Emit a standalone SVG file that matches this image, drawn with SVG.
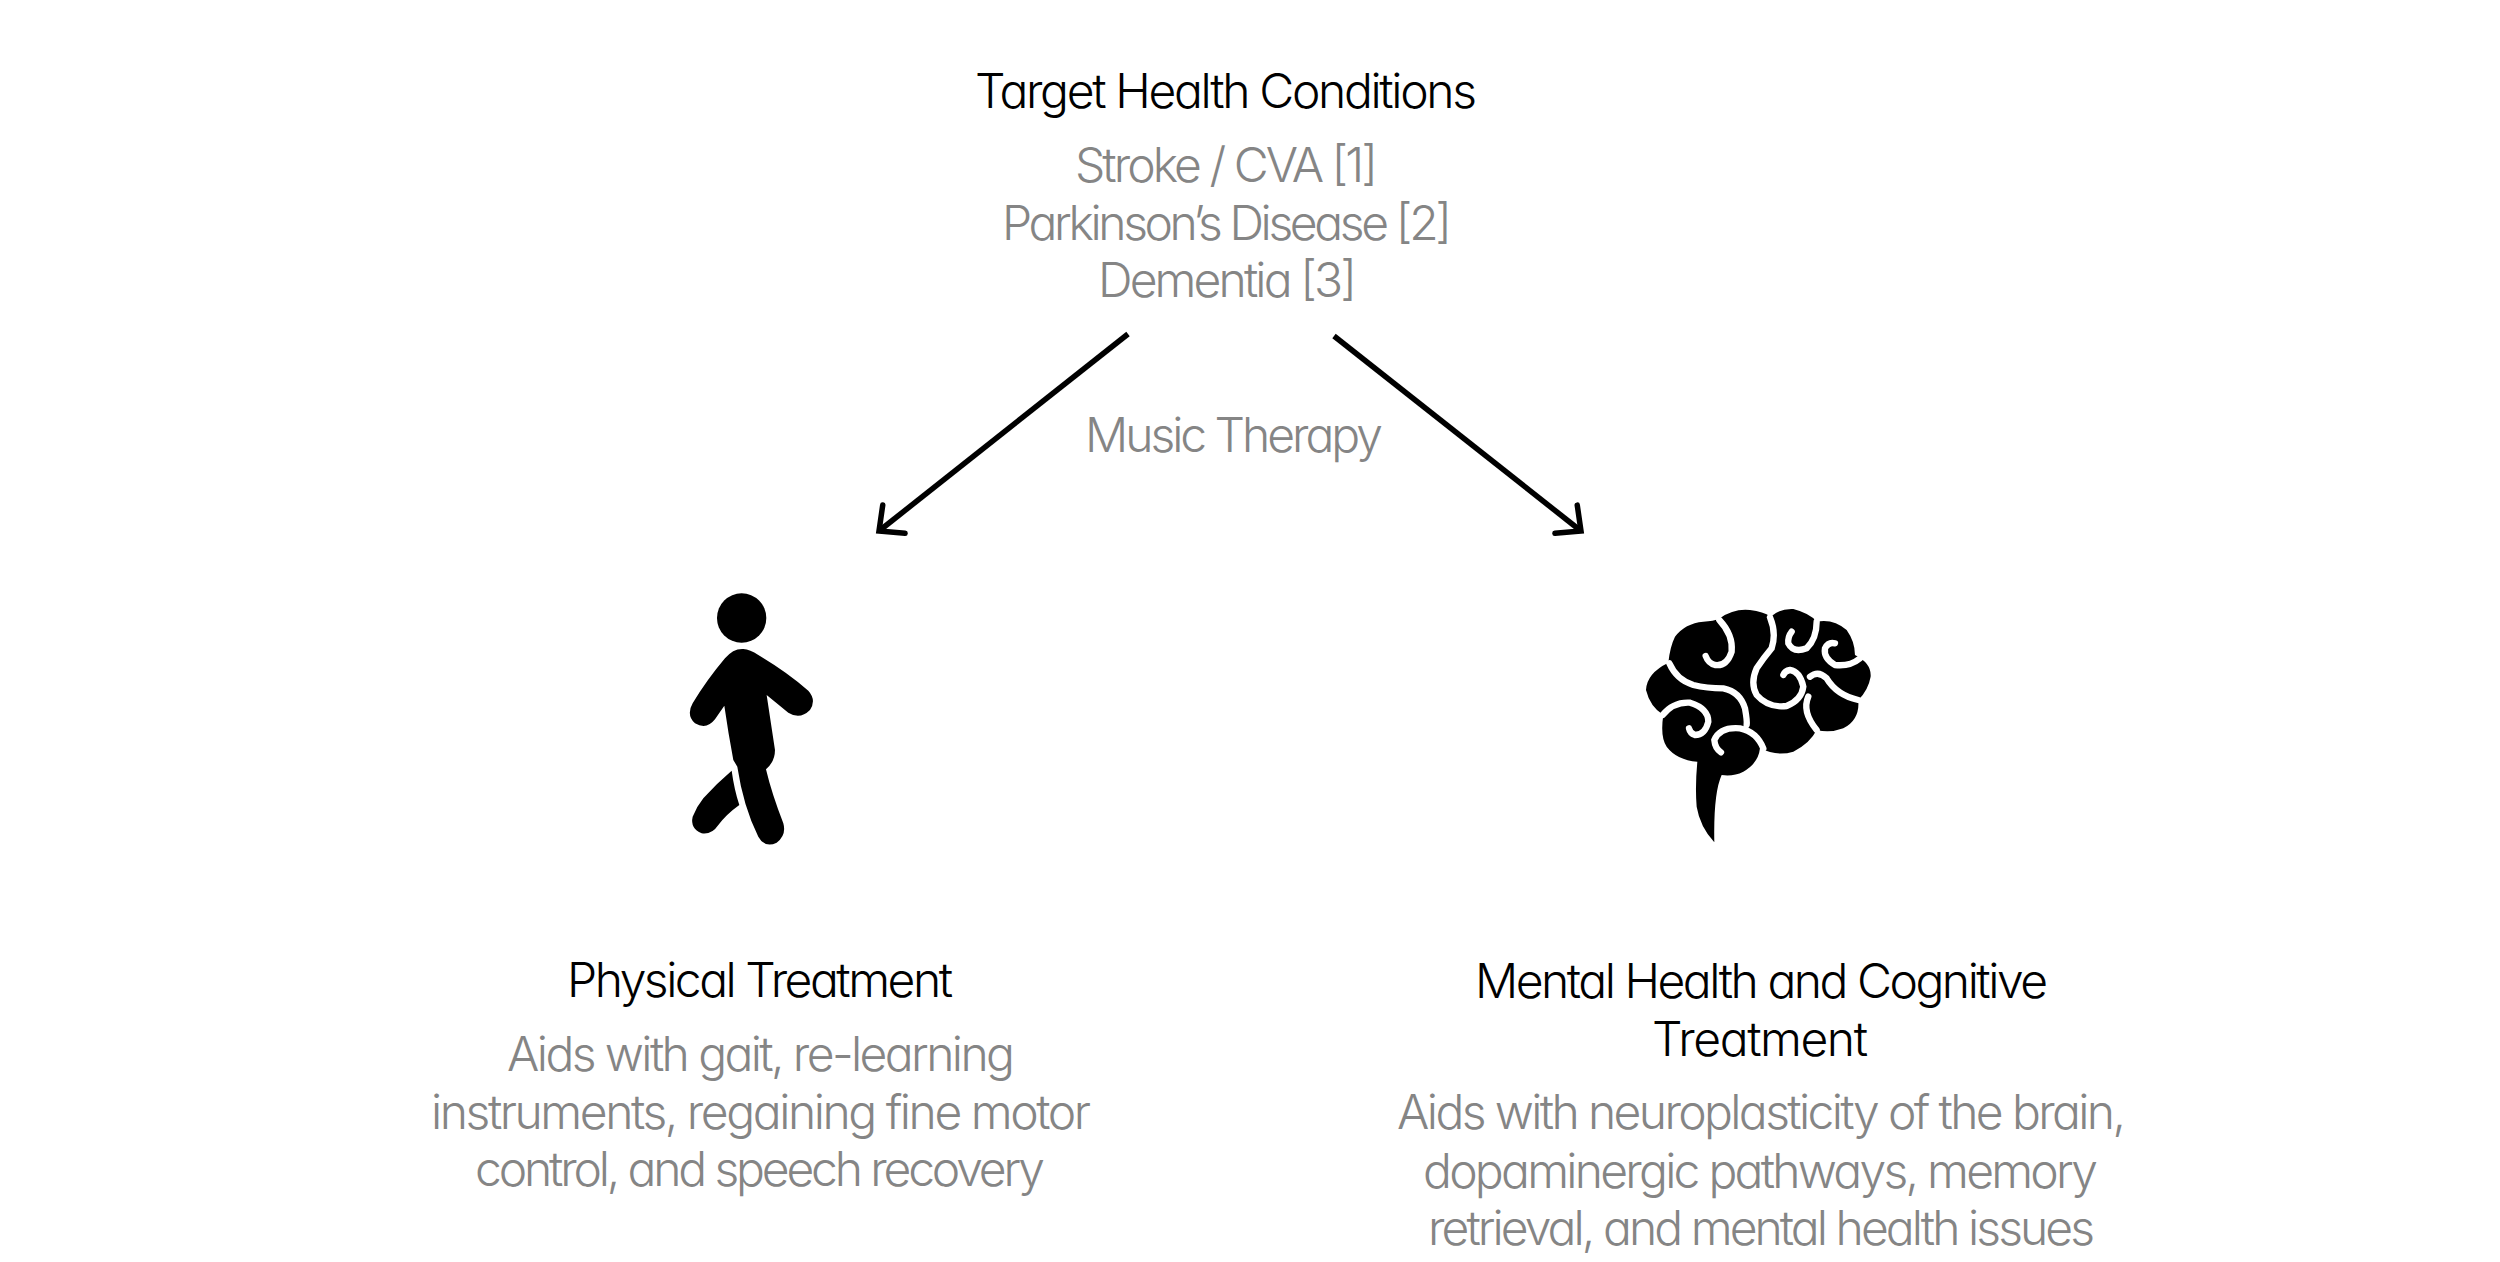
<svg xmlns="http://www.w3.org/2000/svg" width="2500" height="1262" viewBox="0 0 2500 1262">
<style>
text{font-family:"Inter","Lato","Liberation Sans",sans-serif;font-size:48px;font-weight:300;font-feature-settings:"cv11" 1;}
.h{fill:#000;}
.b{fill:#858585;}
.arrow{fill:none;stroke:#000;stroke-width:5.5;marker-end:url(#head);}
.curl{fill:none;stroke:#fff;stroke-width:19;stroke-linecap:round;}
</style>
<defs>
<marker id="head" markerUnits="userSpaceOnUse" markerWidth="50" markerHeight="50" viewBox="-30 -25 50 50" refX="0" refY="0" orient="auto">
<path d="M-19,-18 L0,0 L-19,18" fill="none" stroke="#000" stroke-width="5.5" stroke-linecap="round"/>
</marker>
</defs>
<rect width="2500" height="1262" fill="#fff"/>
<g id="connectors">
<line class="arrow" x1="1128" y1="334" x2="879" y2="531"/>
<line class="arrow" x1="1334" y1="336" x2="1581" y2="531"/>
</g>
<g id="conditions">
<text class="h" x="975" y="108" textLength="502" lengthAdjust="spacing">Target Health Conditions</text>
<text class="b" x="1075" y="182" textLength="303" lengthAdjust="spacing">Stroke / CVA [1]</text>
<text class="b" x="1002" y="240" textLength="450" lengthAdjust="spacing">Parkinson’s Disease [2]</text>
<text class="b" x="1098" y="297" textLength="259" lengthAdjust="spacing">Dementia [3]</text>
</g>
<g id="therapy">
<text class="b" x="1085" y="452" textLength="298" lengthAdjust="spacing">Music Therapy</text>
</g>
<g id="physical">
<g transform="translate(600 560) scale(.3333)">
<circle cx="425" cy="174" r="74"/>
<path d="M375,295 Q400,265 430,267 Q450,268 475,285 Q560,335 625,392 Q650,420 630,450 Q600,480 565,458 L500,405 L525,570 Q525,605 498,628 Q515,700 550,790 Q560,825 530,848 Q495,865 475,830 Q430,740 412,620 L400,600 Q385,520 373,437 L345,478 Q320,510 285,490 Q258,465 278,430 Q320,360 375,295 Z"/>
<path d="M395,632 Q403,690 418,735 Q380,762 355,795 Q335,825 305,820 Q270,805 278,770 Q290,740 310,715 Q350,670 395,632 Z"/>
</g>
<text class="h" x="567" y="997" textLength="386" lengthAdjust="spacing">Physical Treatment</text>
<text class="b" x="507" y="1071" textLength="508" lengthAdjust="spacing">Aids with gait, re-learning</text>
<text class="b" x="431" y="1129" textLength="660" lengthAdjust="spacing">instruments, regaining fine motor</text>
<text class="b" x="475" y="1186" textLength="570" lengthAdjust="spacing">control, and speech recovery</text>
</g>
<g id="mental">
<g transform="translate(1620 580) scale(.3333)">
<path d="M283,787 Q240,740 230,680 Q225,620 232,545 Q170,540 140,500 Q120,470 130,405 Q90,380 78,330 Q80,280 145,248 Q150,200 165,170 Q195,130 250,125 Q280,125 300,115 Q340,85 390,90 Q430,95 452,110 Q480,85 520,87 Q570,100 590,125 Q640,115 680,150 Q705,185 705,225 Q755,250 752,290 Q745,330 715,360 Q720,420 670,445 Q630,460 590,450 Q570,490 520,515 Q470,530 420,505 Q415,550 370,575 Q340,590 305,585 Q280,640 283,787 Z"/>
<path class="curl" d="M298,120 Q340,165 335,215 Q320,260 285,255 Q265,250 257,228"/>
<path class="curl" d="M148,250 Q170,300 220,315 Q260,325 310,325 Q360,335 375,385 Q382,425 380,435"/>
<path class="curl" d="M430,505 Q410,455 360,445 Q300,440 283,480 Q285,505 303,517"/>
<path class="curl" d="M128,405 Q160,365 210,368 Q265,385 265,425 Q255,465 225,465 Q210,460 207,445"/>
<path class="curl" d="M450,112 Q470,160 455,205 Q430,235 410,265 Q390,310 410,345 Q445,385 500,378 Q545,360 550,320 Q540,275 510,270 Q495,272 490,285"/>
<path class="curl" d="M590,125 Q590,175 560,205 Q520,220 505,190 Q503,170 515,155"/>
<path class="curl" d="M720,235 Q690,260 645,255 Q610,235 615,205 Q625,185 645,190"/>
<path class="curl" d="M570,290 Q595,270 620,295 Q650,345 715,360"/>
<path class="curl" d="M565,350 Q545,395 590,450"/>
</g>
<text class="h" x="1475" y="998" textLength="573" lengthAdjust="spacing">Mental Health and Cognitive</text>
<text class="h" x="1652" y="1056" textLength="216" lengthAdjust="spacing">Treatment</text>
<text class="b" x="1397" y="1129" textLength="729" lengthAdjust="spacing">Aids with neuroplasticity of the brain,</text>
<text class="b" x="1423" y="1188" textLength="675" lengthAdjust="spacing">dopaminergic pathways, memory</text>
<text class="b" x="1428" y="1245" textLength="667" lengthAdjust="spacing">retrieval, and mental health issues</text>
</g>
</svg>
